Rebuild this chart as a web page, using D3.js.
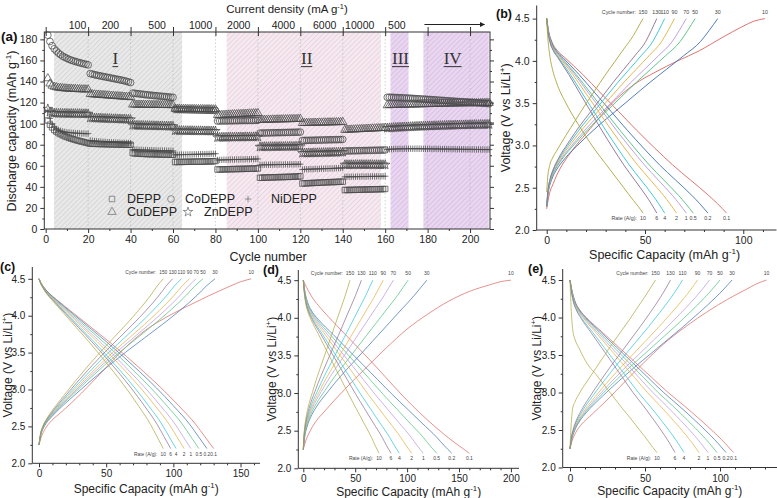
<!DOCTYPE html>
<html><head><meta charset="utf-8">
<script src="https://cdn.jsdelivr.net/npm/d3@7/dist/d3.min.js"></script>
<style>
body{margin:0;background:#fff;}
svg{display:block;font-family:"Liberation Sans",Arial,sans-serif;}
</style></head><body>
<svg id="fig" width="777" height="498"></svg>
<script>
// ================= DATA : panel (a) rate capability =================
const seriesNames = ["DEPP","CoDEPP","NiDEPP","CuDEPP","ZnDEPP"];
const densityLabels = ["100","200","500","1000","2000","4000","6000","10000","500"];
const densityLabelCycles = [15,30.5,52.5,73,91,112,131.5,148,165.5];
const regionStart = [3.9, 85.3, 162.5, 178];
const regionEnd   = [64.3, 158, 171, 208.8];
const regionNames = ["I","II","III","IV"];
const regionLabelCycle = [32.8, 123, 167.2, 191.8];
const xTicksA = [0,20,40,60,80,100,120,140,160,180,200];
const yTicksA = [0,20,40,60,80,100,120,140,160,180];

// per-cycle discharge capacity (mAh/g), cycle 1 onward
const DEPP = [].concat(
 [103,99,96.5,94,92.5,91,90,89,88,87.3,86.5,85.8,85.2,84.6,84,83.5,83,82.5,82,81.5],
 [81,80.9,80.8,80.8,80.7,80.6,80.6,80.5,80.5,80.4,80.4,80.3,80.3,80.2,80.2,80.1,80.1,80,80,80],
 [72,71.8,71.7,71.5,71.4,71.3,71.2,71.1,71,71,70.9,70.9,70.8,70.8,70.7,70.7,70.6,70.6,70.5,70.5],
 [63.6,63.6,63.7,63.7,63.7,63.8,63.8,63.8,63.9,63.9,63.9,64,64,64,64.1,64.1,64.2,64.2,64.3,64.5],
 [56.5,56.5,56.6,56.6,56.7,56.7,56.8,56.8,56.9,56.9,57,57,57.1,57.1,57.2,57.2,57.3,57.3,57.4,57.5],
 [48.6,48.7,48.8,48.9,48.9,49,49,49.1,49.2,49.2,49.3,49.3,49.4,49.5,49.5,49.6,49.7,49.8,49.9,50],
 [43.2,43.3,43.4,43.5,43.6,43.7,43.8,43.9,44,44.1,44.2,44.3,44.4,44.5,44.5,44.6,44.7,44.8,44.9,45],
 [37,37,37.1,37.1,37.2,37.2,37.3,37.3,37.4,37.4,37.5,37.5,37.6,37.6,37.7,37.7,37.8,37.8,37.9,38]
);
const CoDEPP = [].concat(
 [184,178,174,171,169,167,165.5,164,163,162,161,160.3,159.6,159,158.4,157.8,157.3,156.8,156.3,155.8],
 [147.5,147,146.5,146,145.6,145.2,144.8,144.4,144,143.6,143.2,142.8,142.4,142,141.6,141.2,140.7,140.2,139.6,139],
 [129,128.8,128.5,128.3,128,127.8,127.5,127.3,127.1,126.9,126.7,126.5,126.3,126.1,125.9,125.7,125.5,125.3,125.1,125],
 [113.5,113.4,113.4,113.3,113.3,113.2,113.2,113.1,113.1,113,113,112.9,112.9,112.8,112.8,112.7,112.7,112.6,112.6,112.5],
 [102.5,102.5,102.6,102.6,102.6,102.7,102.7,102.7,102.8,102.8,102.8,102.9,102.9,102.9,103,103,103,103.1,103.1,103.2],
 [91,91.1,91.1,91.2,91.2,91.3,91.3,91.4,91.4,91.5,91.5,91.6,91.6,91.7,91.7,91.8,91.8,91.9,91.9,92],
 [84,84.1,84.1,84.2,84.2,84.3,84.3,84.4,84.4,84.5,84.5,84.6,84.6,84.7,84.7,84.8,84.8,84.9,84.9,85],
 [74,74.1,74.1,74.2,74.2,74.3,74.3,74.4,74.4,74.5,74.5,74.6,74.6,74.7,74.7,74.8,74.8,74.9,74.9,75],
 [125,125.1,125,124.9,124.8,124.7,124.6,124.5,124.4,124.3,124.2,124.1,124,123.8,123.7,123.6,123.4,123.3,123.2,123,122.9,122.8,122.6,122.5,122.3,122.2,122.1,121.9,121.8,121.6,121.5,121.4,121.2,121.1,120.9,120.8,120.7,120.5,120.4,120.2,120.1,120,119.8,119.7,119.5,119.4,119.3,119.1,119]
);
const NiDEPP = [].concat(
 [112,105,100,97,95,94,93.2,92.6,92.2,91.8,91.6,91.4,91.2,91,90.9,90.8,90.7,90.6,90.5,90.5],
 [84,83.7,83.5,83.3,83.1,82.9,82.8,82.6,82.5,82.4,82.3,82.2,82.1,82,81.9,81.8,81.7,81.7,81.6,81.5],
 [75.5,75.4,75.3,75.2,75.1,75,75,74.9,74.8,74.8,74.7,74.6,74.6,74.5,74.5,74.4,74.3,74.3,74.2,74.2],
 [70.4,70.5,70.5,70.6,70.6,70.7,70.7,70.8,70.8,70.9,70.9,71,71,71.1,71.1,71.2,71.2,71.3,71.4,71.5],
 [65.5,65.6,65.6,65.7,65.7,65.8,65.8,65.9,65.9,66,66,66,66.1,66.1,66.2,66.2,66.3,66.3,66.4,66.5],
 [60.8,60.9,60.9,61,61,61,61.1,61.1,61.1,61.2,61.2,61.2,61.3,61.3,61.3,61.4,61.4,61.4,61.5,61.5],
 [56.5,56.6,56.7,56.8,56.8,56.9,57,57,57.1,57.2,57.2,57.3,57.4,57.4,57.5,57.6,57.7,57.8,57.9,58],
 [49.5,49.5,49.6,49.6,49.6,49.7,49.7,49.7,49.8,49.8,49.8,49.9,49.9,49.9,50,50,50,50,50.1,50.1],
 [75.5,75.7,75.8,75.9,76,76,76.1,76.1,76.1,76.2,76.2,76.2,76.2,76.2,76.2,76.2,76.2,76.1,76.1,76.1,76.1,76,76,76,76,75.9,75.9,75.9,75.9,75.8,75.8,75.8,75.8,75.7,75.7,75.7,75.7,75.6,75.6,75.6,75.6,75.5,75.5,75.5,75.5,75.4,75.4,75.4,75.4]
);
const CuDEPP = [].concat(
 [143,138,136,135,134.5,134,133.8,133.6,133.4,133.2,133.1,133,132.9,132.8,132.7,132.6,132.5,132.5,132.4,132.4],
 [128,127.8,127.6,127.5,127.3,127.2,127,126.9,126.7,126.6,126.4,126.3,126.1,126,125.8,125.7,125.5,125.4,125.2,125],
 [118,118,117.9,117.9,117.9,117.8,117.8,117.8,117.8,117.7,117.7,117.7,117.7,117.6,117.6,117.6,117.6,117.5,117.5,117.5],
 [114,114,114,113.9,113.9,113.9,113.8,113.8,113.8,113.8,113.7,113.7,113.7,113.7,113.6,113.6,113.6,113.6,113.5,113.5],
 [108,108.1,108.2,108.3,108.4,108.5,108.6,108.7,108.8,108.9,109,109.1,109.2,109.3,109.4,109.5,109.6,109.7,109.8,110],
 [103.5,103.5,103.6,103.6,103.7,103.7,103.8,103.8,103.9,103.9,104,104,104.1,104.1,104.2,104.2,104.3,104.3,104.4,104.5],
 [100.5,100.5,100.6,100.6,100.7,100.7,100.8,100.8,100.9,100.9,101,101,101.1,101.1,101.2,101.2,101.3,101.3,101.4,101.5],
 [94,94.1,94.2,94.3,94.4,94.5,94.6,94.7,94.8,94.9,95,95.1,95.2,95.3,95.4,95.5,95.6,95.7,95.8,96],
 [117.4,117.5,117.6,117.7,117.7,117.8,117.8,117.9,117.9,118,118,118.1,118.1,118.2,118.2,118.3,118.3,118.4,118.4,118.5,118.5,118.6,118.6,118.7,118.7,118.8,118.8,118.9,118.9,119,119,119,119.1,119.1,119.2,119.2,119.2,119.3,119.3,119.3,119.4,119.4,119.4,119.5,119.5,119.5,119.6,119.6,119.6]
);
const ZnDEPP = [].concat(
 [114,111,110.3,110,109.9,109.8,109.8,109.7,109.7,109.7,109.6,109.6,109.6,109.5,109.5,109.5,109.4,109.4,109.4,109.3],
 [105.5,105.4,105.3,105.2,105.2,105.1,105,104.9,104.9,104.8,104.7,104.6,104.6,104.5,104.4,104.3,104.3,104.2,104.1,104],
 [98.5,98.4,98.4,98.3,98.3,98.2,98.2,98.1,98.1,98,98,97.9,97.9,97.8,97.8,97.7,97.7,97.6,97.6,97.5],
 [93.5,93.5,93.4,93.4,93.4,93.3,93.3,93.3,93.3,93.2,93.2,93.2,93.2,93.1,93.1,93.1,93.1,93,93,93],
 [87,87,87.1,87.1,87.1,87.2,87.2,87.2,87.2,87.3,87.3,87.3,87.3,87.4,87.4,87.4,87.4,87.5,87.5,87.5],
 [78,78,78.1,78.1,78.1,78.2,78.2,78.2,78.2,78.3,78.3,78.3,78.3,78.4,78.4,78.4,78.4,78.5,78.5,78.5],
 [72,72.1,72.1,72.2,72.2,72.3,72.3,72.4,72.4,72.5,72.5,72.6,72.6,72.7,72.7,72.8,72.8,72.9,72.9,73],
 [61,61,61,61,61,61.1,61.1,61.1,61.1,61.1,61.1,61.1,61.1,61.1,61,61,61,61,61,61],
 [95.8,96,96.1,96.3,96.4,96.5,96.6,96.7,96.8,96.9,97,97.1,97.2,97.3,97.4,97.5,97.5,97.6,97.7,97.8,97.8,97.9,98,98,98.1,98.2,98.2,98.3,98.4,98.4,98.5,98.5,98.6,98.7,98.7,98.8,98.8,98.9,98.9,99,99,99.1,99.1,99.1,99.2,99.2,99.2,99.3,99.3]
);

// ================= DATA : panels (b)-(e) charge/discharge =================
const cycleNums  = [10,30,50,70,90,110,130,150];
const rateLabels = ["0.1","0.2","0.5","1","2","4","6","10"];
const curveColors = ["#d9655f","#3e6fb0","#4cbf7f","#b896e0","#e0b040","#2fc2d6","#8c6d8e","#ada53f"];
const capFracs = [0,0.01,0.03,0.06,0.1,0.2,0.3,0.4,0.5,0.6,0.7,0.8,0.9,0.95,1];

const bChargeCap    = [111,87,75.5,71,65,60,56,49];
const bDischargeCap = [91.5,82,74.5,71,66,60,56,49];
const bChgSlow = [2.25,2.4,2.55,2.72,2.88,3.2,3.5,3.72,3.87,4.0,4.12,4.27,4.41,4.47,4.5];
const bChg     = [2.28,2.45,2.6,2.72,2.83,3.04,3.23,3.4,3.57,3.74,3.9,4.06,4.23,4.36,4.5];
const bChgFast = [2.45,2.62,2.76,2.85,2.93,3.12,3.3,3.48,3.65,3.82,3.98,4.14,4.3,4.4,4.5];
const bDis     = [4.5,4.36,4.22,4.12,4.04,3.84,3.62,3.4,3.18,2.97,2.77,2.59,2.41,2.31,2.2];
const bDisFast = [4.5,4.3,4.08,3.9,3.75,3.5,3.3,3.12,2.95,2.8,2.65,2.5,2.35,2.28,2.2];

const cChargeCap    = [158,131,122,117,112,106,99.5,92.5];
const cDischargeCap = [130,125,119,113,108,102,98,92.5];
const cChgSlow = [2.25,2.35,2.47,2.58,2.68,2.95,3.25,3.55,3.8,3.98,4.13,4.27,4.4,4.46,4.5];
const cChg     = [2.25,2.38,2.5,2.6,2.7,2.92,3.13,3.33,3.52,3.7,3.88,4.07,4.28,4.4,4.5];
const cDis     = [4.5,4.45,4.38,4.3,4.22,4.03,3.84,3.65,3.45,3.24,3.02,2.78,2.52,2.36,2.2];

const dChargeCap    = [200,119,101,86.7,77,67,56,45];
const dDischargeCap = [160,143,128.5,115.6,104.4,92.5,84.5,73];
const dChgSlow = [2.25,2.35,2.48,2.62,2.75,3.05,3.33,3.6,3.85,4.05,4.22,4.35,4.44,4.48,4.5];
const dChg     = [2.25,2.4,2.55,2.68,2.8,3.02,3.22,3.4,3.58,3.76,3.94,4.12,4.3,4.4,4.5];
const dDisSlow = [4.5,4.45,4.36,4.25,4.14,3.9,3.67,3.44,3.2,2.96,2.74,2.54,2.36,2.28,2.2];
const dDis     = [4.5,4.36,4.2,4.08,3.98,3.78,3.58,3.38,3.18,2.98,2.79,2.6,2.41,2.3,2.2];

const eChargeCap    = [131,108,100,93,85,75,67,57];
const eDischargeCap = [109,104,98,92,86,76,70,58];
const eChgSlow = [2.25,2.35,2.47,2.58,2.68,2.93,3.2,3.46,3.7,3.9,4.08,4.24,4.38,4.45,4.5];
const eChg     = [2.25,2.37,2.5,2.62,2.73,2.95,3.15,3.34,3.52,3.7,3.88,4.07,4.27,4.38,4.5];
const eChgFast = [2.25,2.5,2.78,2.88,2.97,3.15,3.32,3.49,3.66,3.82,3.98,4.15,4.32,4.41,4.5];
const eDis     = [4.5,4.38,4.22,4.1,4.0,3.8,3.6,3.4,3.2,3.0,2.82,2.63,2.43,2.32,2.2];
const eDisFast = [4.5,4.2,3.85,3.7,3.6,3.38,3.24,3.09,2.94,2.79,2.65,2.5,2.35,2.27,2.2];

const voltTicks = [2.0,2.5,3.0,3.5,4.0,4.5];

// ================= DRAWING =================
const svg = d3.select("#fig");
const defs = svg.append("defs");
function hatch(id,bg,fg){
  const p = defs.append("pattern").attr("id",id).attr("patternUnits","userSpaceOnUse")
    .attr("width",3.5).attr("height",3.5).attr("patternTransform","rotate(45)");
  p.append("rect").attr("width",3.5).attr("height",3.5).attr("fill",bg);
  p.append("line").attr("x1",0.5).attr("y1",0).attr("x2",0.5).attr("y2",3.5).attr("stroke",fg).attr("stroke-width",0.8);
}
hatch("hGrey","#e9e9e9","#d2d2d2");
hatch("hPink","#f6e9f0","#e4d0dd");
hatch("hPurp","#e9d6f0","#d5bde2");
const regionFill = ["url(#hGrey)","url(#hPink)","url(#hPurp)","url(#hPurp)"];

function richText(g,x,y,parts,size,anchor,rot){
  const t = g.append("text").attr("x",x).attr("y",y).attr("font-size",size)
    .attr("text-anchor",anchor||"start").attr("fill","#222");
  if(rot) t.attr("transform",`rotate(${rot},${x},${y})`);
  let afterSup = false;
  parts.forEach(p=>{
    if(typeof p==="string"){
      const s = t.append("tspan").text(p);
      if(afterSup) s.attr("dy",size*0.38);
      afterSup = false;
    } else {
      t.append("tspan").attr("dy",-size*0.38).attr("font-size",size*0.65).text(p.sup);
      afterSup = true;
    }
  });
  return t;
}

// ---------- panel (a) ----------
const A = {l:44.3, r:490, t:32, b:229};
const xA = d3.scaleLinear([-0.66,209.4],[A.l,A.r]);
const yA = d3.scaleLinear([0,187],[A.b,A.t]);
const gA = svg.append("g");

regionStart.forEach((s,i)=>{
  gA.append("rect").attr("x",xA(s)).attr("y",A.t).attr("width",xA(regionEnd[i])-xA(s))
    .attr("height",A.b-A.t).attr("fill",regionFill[i]);
});
xTicksA.slice(1).forEach(c=>{
  gA.append("line").attr("x1",xA(c)).attr("x2",xA(c)).attr("y1",A.t).attr("y2",A.b)
    .attr("stroke","#bdbdbd").attr("stroke-width",0.7).attr("stroke-dasharray","1.5,2");
});
regionNames.forEach((n,i)=>{
  const x = xA(regionLabelCycle[i]);
  const t = gA.append("text").attr("x",x).attr("y",yA(156.5)).attr("text-anchor","middle")
    .attr("font-family","'Liberation Serif','DejaVu Serif',serif").attr("font-size",17).attr("fill","#333").text(n);
  const w = t.node().getComputedTextLength();
  gA.append("line").attr("x1",x-w/2).attr("x2",x+w/2).attr("y1",yA(156.5)+2.5).attr("y2",yA(156.5)+2.5)
    .attr("stroke","#333").attr("stroke-width",1);
});

// markers
const markerStroke = "#4a4a4a";
const sym = {
  DEPP: d3.symbol(d3.symbolSquare,30)(),
  CoDEPP: d3.symbol(d3.symbolCircle,36)(),
  CuDEPP: d3.symbol(d3.symbolTriangle,30)(),
  ZnDEPP: d3.symbol(d3.symbolStar,28)(),
  NiDEPP: "M-3.2,0H3.2M0,-3.2V3.2"
};
const seriesData = {DEPP, CoDEPP, NiDEPP, CuDEPP, ZnDEPP};
const drawOrder = ["DEPP","NiDEPP","ZnDEPP","CuDEPP","CoDEPP"];
drawOrder.forEach(name=>{
  const vals = seriesData[name];
  gA.append("g").selectAll("path").data(vals).join("path")
    .attr("d",sym[name])
    .attr("transform",(v,i)=>`translate(${xA(i+1)},${yA(v)})`)
    .attr("fill","none").attr("stroke",markerStroke).attr("stroke-width",0.75);
});

// frame and axes
gA.append("rect").attr("x",A.l).attr("y",A.t).attr("width",A.r-A.l).attr("height",A.b-A.t)
  .attr("fill","none").attr("stroke","#333").attr("stroke-width",1);
function styleAxis(g,fs){
  g.select(".domain").remove();
  g.selectAll("line").attr("stroke","#333");
  g.selectAll("text").attr("font-size",fs).attr("fill","#222").attr("font-family","'Liberation Sans',Arial,sans-serif");
}
gA.append("g").attr("transform",`translate(0,${A.b})`)
  .call(d3.axisBottom(xA).tickValues(xTicksA).tickSize(4).tickPadding(3)).call(g=>styleAxis(g,10.5));
gA.append("g").attr("transform",`translate(0,${A.b})`)
  .call(d3.axisBottom(xA).tickValues(d3.range(10,210,20)).tickSize(2).tickFormat("")).call(g=>styleAxis(g,10));
gA.append("g").attr("transform",`translate(${A.l},0)`)
  .call(d3.axisLeft(yA).tickValues(yTicksA).tickSize(4).tickPadding(3)).call(g=>styleAxis(g,10.5));
gA.append("g").attr("transform",`translate(${A.l},0)`)
  .call(d3.axisLeft(yA).tickValues(d3.range(10,187,20)).tickSize(2).tickFormat("")).call(g=>styleAxis(g,10));
gA.append("g").attr("transform",`translate(${A.r},0)`)
  .call(d3.axisRight(yA).tickValues(yTicksA).tickSize(4).tickFormat("")).call(g=>styleAxis(g,10));
gA.append("g").attr("transform",`translate(${A.r},0)`)
  .call(d3.axisRight(yA).tickValues(d3.range(10,187,20)).tickSize(2).tickFormat("")).call(g=>styleAxis(g,10));
// top axis: current density
gA.append("g").attr("transform",`translate(0,${A.t+4})`)
  .call(d3.axisTop(xA).tickValues(xTicksA).tickSize(9).tickFormat("")).call(g=>styleAxis(g,10));
densityLabels.forEach((d,i)=>{
  gA.append("text").attr("x",xA(densityLabelCycles[i])).attr("y",29).attr("text-anchor","middle")
    .attr("font-size",10.5).attr("fill","#222").text(d);
});
defs.append("marker").attr("id","arrow").attr("viewBox","0 0 10 10").attr("refX",9).attr("refY",5)
  .attr("markerWidth",7).attr("markerHeight",5).attr("orient","auto")
  .append("path").attr("d","M0,0L10,5L0,10z").attr("fill","#222");
gA.append("line").attr("x1",xA(178.5)).attr("x2",xA(206.8)).attr("y1",24.5).attr("y2",24.5)
  .attr("stroke","#222").attr("stroke-width",1).attr("marker-end","url(#arrow)");

richText(svg,287,13,["Current density (mA g",{sup:"-1"},")"],11.5,"middle");
richText(svg,268,261,["Cycle number"],12.5,"middle");
richText(svg,16,131,["Discharge capacity (mAh g",{sup:"-1"},")"],12.5,"middle",-90);
svg.append("text").attr("x",1).attr("y",41).attr("font-size",13.5).attr("font-weight","bold").attr("fill","#111").text("(a)");

// legend
const legendItems = [
  {n:"DEPP",x:112,y:199,tx:127},{n:"CoDEPP",x:171,y:199,tx:185},{n:"NiDEPP",x:248,y:199,tx:271},
  {n:"CuDEPP",x:112,y:212,tx:127},{n:"ZnDEPP",x:188,y:212,tx:204}];
legendItems.forEach(it=>{
  svg.append("path").attr("d",sym[it.n]).attr("transform",`translate(${it.x},${it.y})`)
    .attr("fill","none").attr("stroke","#777").attr("stroke-width",0.8);
  svg.append("text").attr("x",it.tx).attr("y",it.y+4.3).attr("font-size",12.5).attr("fill","#222").text(it.n);
});

// ---------- panels (b)-(e) ----------
const panels = [
 {tag:"(b)", tagX:496, tagY:18, box:{l:536.7,r:776.5,t:5.5,b:230}, xDom:[-5.09,116.9], yDom:[2.0,4.655],
  xTicks:[0,50,100], xMinor:10, chgCap:bChargeCap, disCap:bDischargeCap,
  chg:{slow:bChgSlow, norm:bChg, fast:bChgFast}, dis:{slow:bDis, norm:bDis, fast:bDisFast},
  fs:10.5, titleFs:12.5, yTitleX:510, xTitleY:259, small:5.3, op:0.95},
 {tag:"(c)", tagX:0, tagY:271, box:{l:32.3,r:260,t:267,b:463.3}, xDom:[-4.99,164.5], yDom:[2.0,4.66],
  xTicks:[0,50,100,150], xMinor:10, chgCap:cChargeCap, disCap:cDischargeCap,
  chg:{slow:cChgSlow, norm:cChg, fast:cChg}, dis:{slow:cDis, norm:cDis, fast:cDis},
  fs:10, titleFs:12, yTitleX:12, xTitleY:493, small:4.8, op:0.75},
 {tag:"(d)", tagX:263, tagY:274, box:{l:298.3,r:519,t:270,b:468.3}, xDom:[-4.82,207.8], yDom:[2.0,4.635],
  xTicks:[0,50,100,150,200], xMinor:10, chgCap:dChargeCap, disCap:dDischargeCap,
  chg:{slow:dChgSlow, norm:dChg, fast:dChg}, dis:{slow:dDisSlow, norm:dDis, fast:dDis},
  fs:10, titleFs:12, yTitleX:276, xTitleY:496, small:5, op:0.75},
 {tag:"(e)", tagX:528, tagY:273, box:{l:562.7,r:777,t:269,b:467.5}, xDom:[-4.87,138], yDom:[2.0,4.647],
  xTicks:[0,50,100], xMinor:10, chgCap:eChargeCap, disCap:eDischargeCap,
  chg:{slow:eChgSlow, norm:eChg, fast:eChgFast}, dis:{slow:eDis, norm:eDis, fast:eDisFast},
  fs:10, titleFs:12, yTitleX:541, xTitleY:495, small:5, op:0.75}
];

panels.forEach(P=>{
  const g = svg.append("g");
  const x = d3.scaleLinear(P.xDom,[P.box.l,P.box.r]);
  const y = d3.scaleLinear(P.yDom,[P.box.b,P.box.t]);
  const line = d3.line().x(d=>x(d[0])).y(d=>y(d[1])).curve(d3.curveMonotoneX);
  const pick = (set,i)=> i===0 ? set.slow : (i===cycleNums.length-1 ? set.fast : set.norm);
  cycleNums.forEach((c,i)=>{
    const cp = pick(P.chg,i), dp = pick(P.dis,i);
    const chgPts = capFracs.map((f,k)=>[f*P.chgCap[i], cp[k]]);
    const disPts = capFracs.map((f,k)=>[f*P.disCap[i], dp[k]]);
    [chgPts,disPts].forEach(pts=>{
      g.append("path").attr("d",line(pts)).attr("fill","none").attr("stroke",curveColors[i])
        .attr("stroke-width",0.95).attr("stroke-opacity",P.op);
    });
  });
  // axes
  const ax = g.append("g").attr("transform",`translate(0,${P.box.b})`)
    .call(d3.axisBottom(x).tickValues(P.xTicks).tickSize(4).tickPadding(3).tickFormat(d3.format("d")));
  styleAxis(ax,P.fs);
  const axm = g.append("g").attr("transform",`translate(0,${P.box.b})`)
    .call(d3.axisBottom(x).tickValues(d3.range(P.xMinor,P.xDom[1],P.xMinor).filter(v=>!P.xTicks.includes(v))).tickSize(2).tickFormat(""));
  styleAxis(axm,P.fs);
  const ay = g.append("g").attr("transform",`translate(${P.box.l},0)`)
    .call(d3.axisLeft(y).tickValues(voltTicks).tickSize(4).tickPadding(3).tickFormat(d3.format(".1f")));
  styleAxis(ay,P.fs);
  const aym = g.append("g").attr("transform",`translate(${P.box.l},0)`)
    .call(d3.axisLeft(y).tickValues([2.25,2.75,3.25,3.75,4.25]).tickSize(2).tickFormat(""));
  styleAxis(aym,P.fs);
  g.append("line").attr("x1",P.box.l).attr("x2",P.box.r).attr("y1",P.box.b).attr("y2",P.box.b).attr("stroke","#333");
  g.append("line").attr("x1",P.box.l).attr("x2",P.box.l).attr("y1",P.box.t).attr("y2",P.box.b).attr("stroke","#333");
  // labels
  const cyY = y(4.5)-5, rtY = y(2.2)+7;
  cycleNums.forEach((c,i)=>{
    g.append("text").attr("x",x(P.chgCap[i])).attr("y",cyY).attr("text-anchor","middle")
      .attr("font-size",P.small).attr("fill","#444").text(c);
    g.append("text").attr("x",x(P.disCap[i])).attr("y",rtY).attr("text-anchor","middle")
      .attr("font-size",P.small).attr("fill","#444").text(rateLabels[i]);
  });
  const last = cycleNums.length-1;
  g.append("text").attr("x",x(P.chgCap[last])-7).attr("y",cyY).attr("text-anchor","end")
    .attr("font-size",P.small).attr("fill","#444").text("Cycle number:");
  g.append("text").attr("x",x(P.disCap[last])-6).attr("y",rtY).attr("text-anchor","end")
    .attr("font-size",P.small).attr("fill","#444").text("Rate (A/g):");
  svg.append("text").attr("x",P.tagX).attr("y",P.tagY).attr("font-size",12.5).attr("font-weight","bold").attr("fill","#111").text(P.tag);
  richText(svg,(P.box.l+P.box.r)/2+ (P.tag==="(b)"?8:0),P.xTitleY,["Specific Capacity (mAh g",{sup:"-1"},")"],P.titleFs,"middle");
  richText(svg,P.yTitleX,(P.box.t+P.box.b)/2,["Voltage (V vs Li/Li",{sup:"+"},")"],P.titleFs,"middle",-90);
});
</script>
</body></html>
